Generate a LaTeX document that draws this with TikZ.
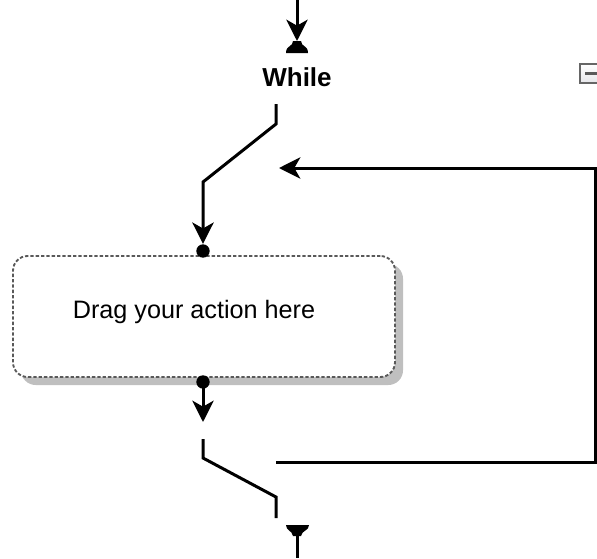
\documentclass[tikz,border=0pt]{standalone}
\usepackage{fontspec}
\setmainfont{Liberation Sans}
\usetikzlibrary{arrows.meta,shadows}

\tikzset{every picture/.style={line width=0.75pt}}
\tikzset{
  wire/.style={line width=2.25pt},
  flow/.style={wire, -{Stealth[length=16pt,width=16pt,inset=4.5pt]}},
  pin/.style={circle, fill=black, inner sep=0pt, minimum size=10pt},
  actionbox/.style={rounded corners=11pt, draw=black!65, line width=1.4pt,
    dash pattern=on 2.5pt off 1.5pt, fill=white,
    minimum width=286.5pt, minimum height=90.75pt,
    drop shadow={shadow xshift=6pt, shadow yshift=-6pt, fill=black!25, opacity=1}},
}

\begin{document}
\begin{tikzpicture}[x=0.75pt,y=0.75pt,yscale=-1,xscale=1]

\clip (0,0) rectangle (597,558);

% end points of the wires
\coordinate (in) at (297,0);
\coordinate (headtop) at (297,41);
\coordinate (sw1a) at (276,104);
\coordinate (sw1b) at (276,124);
\coordinate (sw1c) at (203,182);
\coordinate (sw2a) at (203,439);
\coordinate (sw2b) at (203,458);
\coordinate (sw2c) at (276,497);
\coordinate (sw2d) at (276,518);
\coordinate (tailtop) at (297,534);
\coordinate (out) at (297,558);
\coordinate (loopa) at (276,462);
\coordinate (loopb) at (595,462);
\coordinate (loopc) at (595,168);
\coordinate (loopd) at (279,168);
\coordinate (outtip) at (203,422);

% action box
\node [actionbox] (action) at (204,316.5) {};
\node [font=\fontsize{18.9}{22}\selectfont] (acttext) at (194,312) {Drag your action here};
\node [pin] (pinin) at (203,251) {};
\node [pin] (pinout) at (203,382) {};

% title
\node [font=\fontsize{19.5}{23}\selectfont\bfseries] (while) at (297,77.5) {While};

% collapse button
\draw [draw=black!60, line width=1pt, top color=white, bottom color=blue!15!black!10]
  (580,64) rectangle (602,83);
\draw [draw=black!65, line width=2pt] (585,73.5) -- (598,73.5);

% entry cap and exit cap
\fill (286,53) .. controls (286,45) and (293,47) .. (293,41) -- (301,41)
  .. controls (301,47) and (308,45) .. (308,53) -- cycle;
\fill (286,525) -- (309,525) .. controls (309,531) and (302,530) .. (301,536)
  -- (293,536) .. controls (292,530) and (286,531) .. (286,525) -- cycle;

% wires
\draw [flow] (in) -- (headtop);
\draw [flow, line join=miter] (sw1a) -- (sw1b) -- (sw1c) -- (pinin.north);
\draw [flow] (pinout.center) -- (outtip);
\draw [wire] (sw2a) -- (sw2b) -- (sw2c) -- (sw2d);
\draw [wire] (tailtop) -- (out);
\draw [flow] (loopa) -- (loopb) -- (loopc) -- (loopd);

\end{tikzpicture}
\end{document}
